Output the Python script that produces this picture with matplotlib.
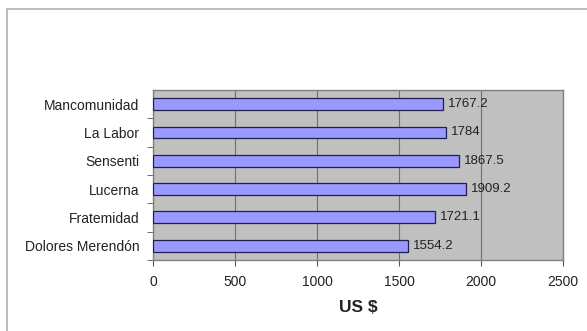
import matplotlib
matplotlib.use("Agg")
import matplotlib.pyplot as plt
from matplotlib.patches import Rectangle

plt.rcParams['font.family'] = ['Liberation Sans', 'DejaVu Sans']

# datos
lugares = ['Dolores Merendón', 'Fratemidad', 'Lucerna', 'Sensenti', 'La Labor', 'Mancomunidad']
valores = [1554.2, 1721.1, 1909.2, 1867.5, 1784, 1767.2]
etiquetas = ['1554.2', '1721.1', '1909.2', '1867.5', '1784', '1767.2']
xticks = [0, 500, 1000, 1500, 2000, 2500]

fig = plt.figure(figsize=(5.87, 3.31), dpi=100)
ax = fig.add_axes([0.261, 0.215, 0.698, 0.513])

# marco exterior
fig.patches.append(Rectangle((0.012, -0.1), 1.1, 1.073, transform=fig.transFigure,
                             fill=False, edgecolor='#b0b0b0', linewidth=1.2))

ax.set_facecolor('#c0c0c0')
ypos = list(range(len(lugares)))
ax.barh(ypos, valores, height=0.42, color='#9999ff', edgecolor='#202050', linewidth=0.9, zorder=3)

for y, v, t in zip(ypos, valores, etiquetas):
    ax.text(v + 30, y, t, va='center', ha='left', fontsize=9.5, color='#222222', zorder=4)

ax.set_xlim(0, 2500)
ax.set_ylim(-0.5, len(lugares) - 0.5)
ax.set_xticks(xticks)
ax.set_xticklabels([str(x) for x in xticks], fontsize=10)
ax.set_yticks(ypos)
ax.set_yticklabels(lugares, fontsize=10, color='#222222')
ax.tick_params(axis='y', length=0, pad=10)
ax.set_yticks([y + 0.5 for y in ypos[:-1]] + [-0.5], minor=True)
ax.tick_params(axis='y', which='minor', length=4, color='#555555', direction='out')
ax.tick_params(axis='x', length=4, color='#555555', pad=7, labelcolor='#222222')
ax.xaxis.grid(True, color='#707070', linewidth=0.8, zorder=1)
ax.set_axisbelow(True)
for s in ax.spines.values():
    s.set_color('#808080')
    s.set_linewidth(1.0)

ax.set_xlabel('US $', fontsize=12.5, fontweight='bold', labelpad=8, color='#222222')

fig.savefig('out.png', dpi=100)
